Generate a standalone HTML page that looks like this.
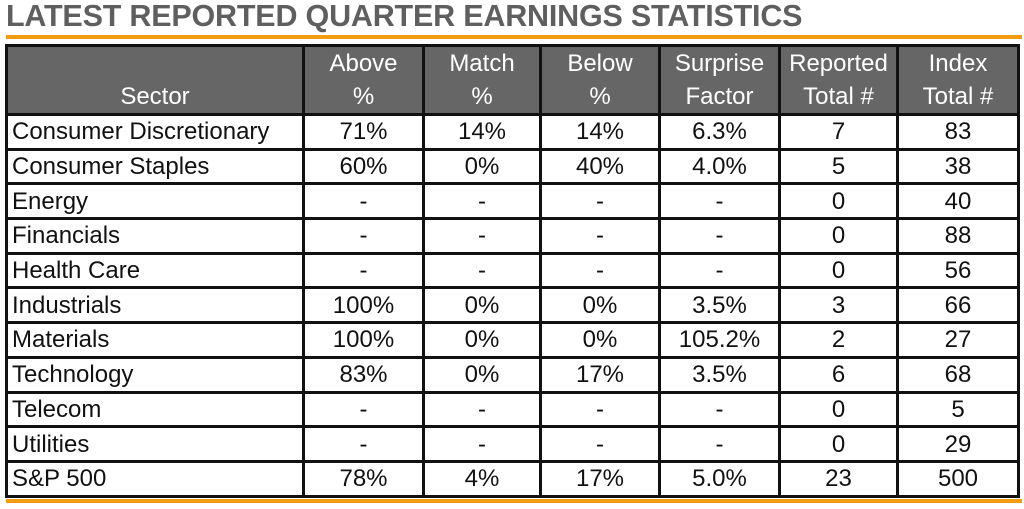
<!DOCTYPE html>
<html><head><meta charset="utf-8"><style>
body{margin:0;width:1024px;height:509px;background:#fff;overflow:hidden;font-family:"Liberation Sans",sans-serif;position:relative}
#title{position:absolute;left:6px;top:-1px;font-size:30.5px;font-weight:bold;color:#5f5f5f;letter-spacing:-0.2px;white-space:nowrap}
.rule{position:absolute;left:6px;width:1016px;height:4px;background:#f39c12}
table{position:absolute;left:5px;top:44px;border-collapse:collapse;table-layout:fixed}
td,th{border:3px solid #111;font-size:24px;font-weight:normal;color:#111;text-align:center;padding:0;height:31.7px;line-height:31px;white-space:nowrap;overflow:hidden}
th{background:#666;color:#fff;vertical-align:bottom;height:65px;line-height:33px}
td.s{text-align:left;padding-left:4px}
</style></head><body>
<div id="title">LATEST REPORTED QUARTER EARNINGS STATISTICS</div>
<div class="rule" style="top:35px"></div>
<table>
<colgroup><col style="width:297px"><col style="width:120px"><col style="width:117px"><col style="width:119px"><col style="width:120px"><col style="width:118px"><col style="width:121px"></colgroup>
<tr><th>Sector</th><th>Above<br>%</th><th>Match<br>%</th><th>Below<br>%</th><th>Surprise<br>Factor</th><th>Reported<br>Total #</th><th>Index<br>Total #</th></tr>
<tr><td class="s">Consumer Discretionary</td><td>71%</td><td>14%</td><td>14%</td><td>6.3%</td><td>7</td><td>83</td></tr>
<tr><td class="s">Consumer Staples</td><td>60%</td><td>0%</td><td>40%</td><td>4.0%</td><td>5</td><td>38</td></tr>
<tr><td class="s">Energy</td><td>-</td><td>-</td><td>-</td><td>-</td><td>0</td><td>40</td></tr>
<tr><td class="s">Financials</td><td>-</td><td>-</td><td>-</td><td>-</td><td>0</td><td>88</td></tr>
<tr><td class="s">Health Care</td><td>-</td><td>-</td><td>-</td><td>-</td><td>0</td><td>56</td></tr>
<tr><td class="s">Industrials</td><td>100%</td><td>0%</td><td>0%</td><td>3.5%</td><td>3</td><td>66</td></tr>
<tr><td class="s">Materials</td><td>100%</td><td>0%</td><td>0%</td><td>105.2%</td><td>2</td><td>27</td></tr>
<tr><td class="s">Technology</td><td>83%</td><td>0%</td><td>17%</td><td>3.5%</td><td>6</td><td>68</td></tr>
<tr><td class="s">Telecom</td><td>-</td><td>-</td><td>-</td><td>-</td><td>0</td><td>5</td></tr>
<tr><td class="s">Utilities</td><td>-</td><td>-</td><td>-</td><td>-</td><td>0</td><td>29</td></tr>
<tr><td class="s">S&amp;P 500</td><td>78%</td><td>4%</td><td>17%</td><td>5.0%</td><td>23</td><td>500</td></tr>
</table>
<div class="rule" style="top:499px"></div>
</body></html>
